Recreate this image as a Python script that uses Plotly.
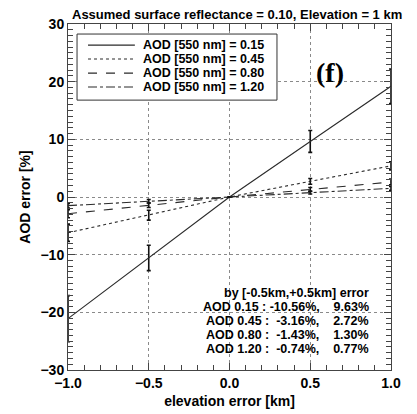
import plotly.graph_objects as go

# ---- data ----
elev_err = [-1.0, -0.5, 0.0, 0.5, 1.0]
aod_labels = ["0.15", "0.45", "0.80", "1.20"]
err_015 = [-21.1, -10.56, 0.0, 9.63, 19.2]
err_045 = [-6.2, -3.16, 0.0, 2.72, 5.4]
err_080 = [-2.9, -1.43, 0.0, 1.30, 2.6]
err_120 = [-1.5, -0.74, 0.0, 0.77, 1.5]
sd_015 = [4.0, 2.2, 0.0, 1.9, 3.0]
sd_045 = [1.5, 0.85, 0.0, 0.5, 0.7]
sd_080 = [0.7, 0.4, 0.0, 0.35, 0.5]
sd_120 = [0.4, 0.3, 0.0, 0.25, 0.35]
dashes = ["solid", "dot", "dash", "dashdot"]

series = [err_015, err_045, err_080, err_120]
sds = [sd_015, sd_045, sd_080, sd_120]

FONT = "Liberation Sans"
LINE_C = "#2a2a2a"
fig = go.Figure()
for lab, ys, sd, dsh in zip(aod_labels, series, sds, dashes):
    fig.add_trace(go.Scatter(
        x=elev_err, y=ys, mode="lines",
        name="AOD [550 nm] = " + lab, showlegend=False,
        line=dict(color=LINE_C, width=1.1, dash=dsh),
        error_y=dict(type="data", array=sd, visible=True, color="#111",
                     thickness=1.6, width=2),
    ))
# helper trace for the mirrored (top/right) tick axes
fig.add_trace(go.Scatter(x=[0], y=[0], xaxis="x2", yaxis="y2", mode="markers",
                         marker=dict(opacity=0), showlegend=False, hoverinfo="skip"))

tfont = dict(family=FONT, size=14, color="black", weight="bold")
axis_common = dict(
    showline=True, linecolor="#444", linewidth=1, mirror=True,
    ticks="inside", ticklen=7, tickcolor="#444", tickwidth=1,
    showgrid=True, gridcolor="#8a8a8a", griddash="dot", gridwidth=1,
    zeroline=False, tickfont=tfont, automargin=False,
)
fig.update_layout(
    xaxis=dict(range=[-1, 1], dtick=0.5, tickformat=".1f",
               minor=dict(dtick=0.1, ticks="inside", ticklen=5, tickcolor="#444", showgrid=False),
               title=dict(text="elevation error [km]", standoff=6, font=tfont),
               **axis_common),
    yaxis=dict(range=[-30, 30], dtick=10,
               minor=dict(dtick=1, ticks="inside", ticklen=5, tickcolor="#444", showgrid=False),
               title=dict(text="AOD error [%]", standoff=6, font=tfont),
               **axis_common),
    xaxis2=dict(range=[-1, 1], dtick=0.5, overlaying="x", side="top",
                showticklabels=False, showgrid=False, zeroline=False, showline=False,
                ticks="inside", ticklen=7, tickcolor="#444", automargin=False,
                minor=dict(dtick=0.1, ticks="inside", ticklen=5, tickcolor="#444", showgrid=False)),
    yaxis2=dict(range=[-30, 30], dtick=10, overlaying="y", side="right",
                showticklabels=False, showgrid=False, zeroline=False, showline=False,
                ticks="inside", ticklen=7, tickcolor="#444", automargin=False,
                minor=dict(dtick=1, ticks="inside", ticklen=5, tickcolor="#444", showgrid=False)),
)

annots = []
shapes = []
annots.append(dict(x=0.523, y=1.0, xref="paper", yref="paper", yanchor="bottom", yshift=0,
                   text="Assumed surface reflectance = 0.10, Elevation = 1 km",
                   showarrow=False,
                   font=dict(family=FONT, size=13, color="black", weight="bold")))
annots.append(dict(x=0.62, y=21.6, xref="x", yref="y", text="(f)", showarrow=False,
                   font=dict(family="Liberation Serif", size=28, color="black", weight="bold")))

# legend box (drawn manually for compact row spacing)
shapes.append(dict(type="rect", xref="paper", yref="paper", x0=0.028, x1=0.647,
                   y0=0.780, y1=0.971, line=dict(color="#333", width=1),
                   fillcolor="white", layer="above"))
row_y = [0.939, 0.899, 0.858, 0.818]
for lab, dsh, ry in zip(aod_labels, dashes, row_y):
    shapes.append(dict(type="line", xref="paper", yref="paper", x0=0.062, x1=0.207,
                       y0=ry, y1=ry, line=dict(color=LINE_C, width=1.1, dash=dsh),
                       layer="above"))
    annots.append(dict(x=0.228, y=ry, xref="paper", yref="paper", xanchor="left",
                       yanchor="middle", text="AOD [550 nm] = " + lab, showarrow=False,
                       borderpad=0,
                       font=dict(family=FONT, size=12.5, color="black", weight="bold")))

nb = "\u00a0"
lines = ["by [-0.5km,+0.5km] error"]
for lab, ys in zip(aod_labels, series):
    lo = f"{ys[1]:.2f}%,"
    hi = f"{ys[3]:.2f}%"
    lines.append(f"AOD {lab} :{nb}" + lo.rjust(8, nb) + hi.rjust(9, nb))
ys_txt = [-16.6, -19.05, -21.5, -23.95, -26.4]
for t, yy in zip(lines, ys_txt):
    annots.append(dict(x=0.868, y=yy, xref="x", yref="y", xanchor="right", text=t,
                       showarrow=False, borderpad=0,
                       font=dict(family=FONT, size=12.5, color="black", weight="bold")))

fig.update_layout(
    width=417, height=414,
    margin=dict(l=68, r=26, t=24, b=44),
    paper_bgcolor="white", plot_bgcolor="white",
    showlegend=False,
    annotations=annots, shapes=shapes,
)
fig.write_html("out.html")
